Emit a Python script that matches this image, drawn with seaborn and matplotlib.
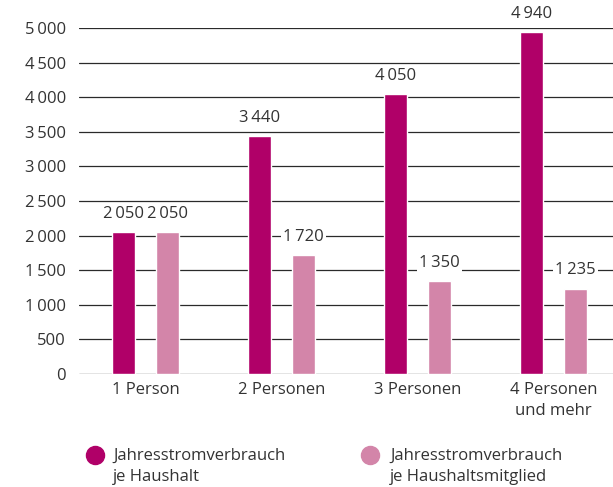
import matplotlib
matplotlib.use("Agg")
import matplotlib.pyplot as plt
import seaborn as sns
import pandas as pd
from matplotlib.lines import Line2D

categories = ["1 Person", "2 Personen", "3 Personen", "4 Personen\nund mehr"]
series_names = ["Jahresstromverbrauch\nje Haushalt", "Jahresstromverbrauch\nje Haushaltsmitglied"]
haushalt = [2050, 3440, 4050, 4940]
mitglied = [2050, 1720, 1350, 1235]
y_ticks = [0, 500, 1000, 1500, 2000, 2500, 3000, 3500, 4000, 4500, 5000]
colors = ["#B00068", "#D385A9"]
TXT = "#333333"

def fmt(v):
    s = f"{v:,}".replace(",", "\u2009")
    return s

sns.set_theme(style="white")
plt.rcParams["font.family"] = ["Open Sans", "DejaVu Sans"]

df = pd.DataFrame({
    "cat": categories * 2,
    "series": [series_names[0]] * 4 + [series_names[1]] * 4,
    "value": haushalt + mitglied,
})

fig = plt.figure(figsize=(6.13, 4.87), dpi=100)
ax = fig.add_axes([79 / 613, 1 - 374 / 487, 1 - 79 / 613, (374 - 28) / 487])

sns.barplot(data=df, x="cat", y="value", hue="series", palette=colors,
            width=0.647, gap=0.477, ax=ax, legend=False, saturation=1, zorder=3)

ax.set_xlim(-0.489, 3.4375)
ax.set_ylim(0, 5000)
ax.set_yticks(y_ticks)
ax.set_yticklabels([fmt(v) for v in y_ticks])
for y in y_ticks:
    ax.axhline(y, color="#2a2a2a", lw=0.9, zorder=1)
for s in ax.spines.values():
    s.set_visible(False)
ax.set_xlabel("")
ax.set_ylabel("")
ax.tick_params(axis="both", length=0, colors=TXT, labelsize=12)
ax.tick_params(axis="y", pad=9.4)
ax.tick_params(axis="x", pad=6)
for lab in ax.get_xticklabels():
    lab.set_linespacing(1.4)

for cont in ax.containers:
    for p in cont:
        h = p.get_height()
        ax.annotate(fmt(int(h)), (p.get_x() + p.get_width() / 2, h),
                    xytext=(0, 13), textcoords="offset points",
                    ha="center", va="center", fontsize=12, color=TXT,
                    annotation_clip=False, zorder=5,
                    bbox=dict(boxstyle="square,pad=0.15", fc="white", ec="none"))

# legend
for i, (name, c) in enumerate(zip(series_names, colors)):
    xm = [95, 370][i] / 613
    xt = [113, 390][i] / 613
    fig.add_artist(Line2D([xm], [1 - 455 / 487], marker="o", markersize=13,
                          color=c, linestyle="none", transform=fig.transFigure))
    fig.text(xt, 1 - 448 / 487, name, ha="left", va="top", fontsize=12,
             color=TXT, linespacing=1.45)

fig.savefig("out.png", dpi=100)
